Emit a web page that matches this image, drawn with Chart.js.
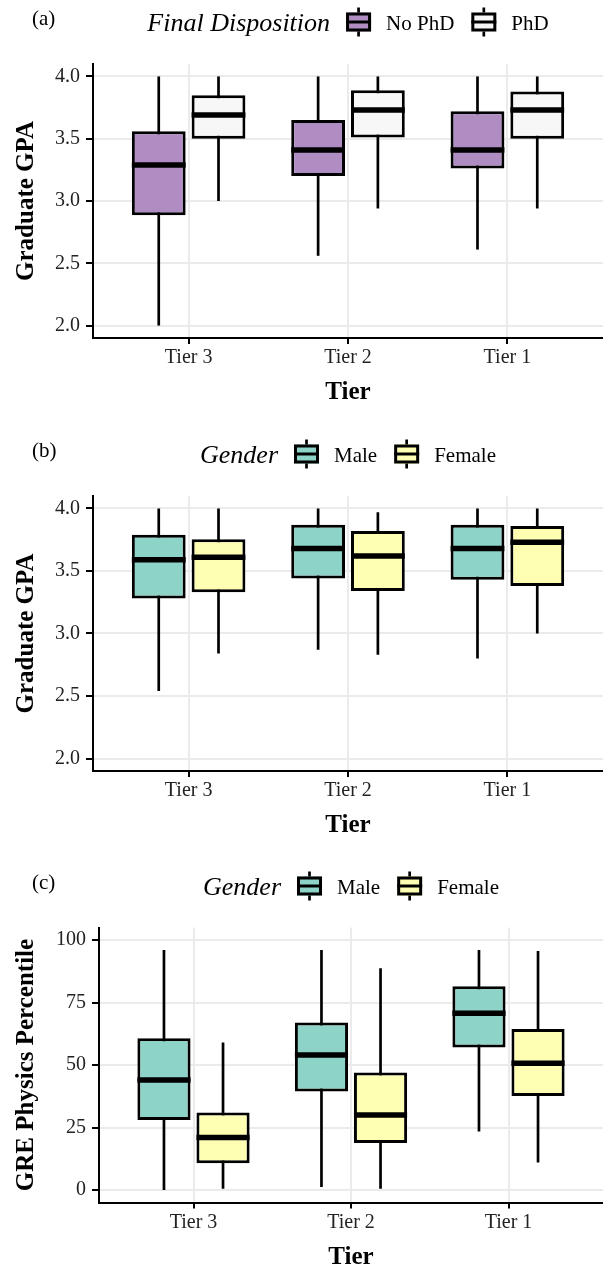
<!DOCTYPE html>
<html>
<head>
<meta charset="utf-8">
<script src="https://cdn.jsdelivr.net/npm/chart.js@4.4.1/dist/chart.umd.min.js"></script>
<style>
  html, body { margin: 0; padding: 0; background: #fff; overflow: hidden; }
  #wrap { position: relative; width: 603px; height: 1266px; overflow: hidden; }
  .panel { position: absolute; left: 0; width: 603px; height: 432px; }
</style>
</head>
<body>
<div id="wrap">
  <div class="panel" style="top:0"><canvas id="chartA" width="603" height="432"></canvas></div>
  <div class="panel" style="top:432px"><canvas id="chartB" width="603" height="432"></canvas></div>
  <div class="panel" style="top:864px"><canvas id="chartC" width="603" height="432"></canvas></div>
</div>
<script>
//? DATOS

const tiers = ["Tier 3", "Tier 2", "Tier 1"];
const tierPos = [1, 2, 3];
const gpaTicks = [2.0, 2.5, 3.0, 3.5, 4.0];
const greTicks = [0, 25, 50, 75, 100];

// (a) Graduate GPA por disposicion final
const noPhdLow = [2.0, 2.56, 2.61];
const noPhdQ1 = [2.885, 3.20, 3.26];
const noPhdMed = [3.29, 3.41, 3.41];
const noPhdQ3 = [3.56, 3.65, 3.72];
const noPhdHigh = [4.0, 4.0, 4.0];

const phdLow = [3.0, 2.94, 2.94];
const phdQ1 = [3.50, 3.51, 3.50];
const phdMed = [3.69, 3.73, 3.73];
const phdQ3 = [3.85, 3.89, 3.88];
const phdHigh = [4.0, 4.0, 4.0];

// (b) Graduate GPA por genero
const maleGpaLow = [2.54, 2.87, 2.80];
const maleGpaQ1 = [3.28, 3.44, 3.43];
const maleGpaMed = [3.59, 3.68, 3.68];
const maleGpaQ3 = [3.79, 3.87, 3.87];
const maleGpaHigh = [4.0, 4.0, 4.0];

const femaleGpaLow = [2.84, 2.83, 3.0];
const femaleGpaQ1 = [3.33, 3.34, 3.38];
const femaleGpaMed = [3.61, 3.62, 3.73];
const femaleGpaQ3 = [3.755, 3.82, 3.86];
const femaleGpaHigh = [4.0, 3.97, 4.0];

// (c) GRE Physics percentil por genero
const maleGreLow = [0, 1.2, 23.4];
const maleGreQ1 = [28, 39.4, 57];
const maleGreMed = [44, 54, 70.7];
const maleGreQ3 = [60.7, 67, 81.5];
const maleGreHigh = [96, 96, 96];

const femaleGreLow = [0.5, 0.5, 11];
const femaleGreQ1 = [10.7, 18.8, 37.6];
const femaleGreMed = [21, 30, 50.7];
const femaleGreQ3 = [31, 47, 64.4];
const femaleGreHigh = [59, 88.7, 95.6];

//? ESTILOS

const serif = "'Liberation Serif', 'DejaVu Serif', serif";
const purple = "#af8dc3";
const white = "#f7f7f7";
const teal = "#8dd3c7";
const yellow = "#ffffb3";

//? PLUGIN: BIGOTES Y MEDIANAS

const boxWhiskers = {
  id: "boxWhiskers",
  beforeDatasetsDraw(chart) {
    const { ctx } = chart;
    const y = chart.scales.y;
    ctx.save();
    ctx.strokeStyle = "#000";
    ctx.lineWidth = 2.7;
    chart.data.datasets.forEach((ds, d) => {
      chart.getDatasetMeta(d).data.forEach((bar, i) => {
        ctx.beginPath();
        ctx.moveTo(bar.x, y.getPixelForValue(ds.low[i]));
        ctx.lineTo(bar.x, y.getPixelForValue(ds.high[i]));
        ctx.stroke();
      });
    });
    ctx.restore();
  },
  afterDatasetsDraw(chart) {
    const { ctx } = chart;
    const y = chart.scales.y;
    ctx.save();
    ctx.strokeStyle = "#000";
    ctx.lineWidth = 5.5;
    chart.data.datasets.forEach((ds, d) => {
      chart.getDatasetMeta(d).data.forEach((bar, i) => {
        const py = y.getPixelForValue(ds.med[i]);
        ctx.beginPath();
        ctx.moveTo(bar.x - bar.width / 2, py);
        ctx.lineTo(bar.x + bar.width / 2, py);
        ctx.stroke();
      });
    });
    ctx.restore();
  },
};

//? PLUGIN: LEYENDA EN UNA FILA + ETIQUETA DEL PANEL

function drawKey(ctx, x, yc, color) {
  const w = 25, h = 19;
  ctx.lineWidth = 2.7;
  ctx.strokeStyle = "#000";
  ctx.beginPath();
  ctx.moveTo(x + w / 2, yc - h / 2 - 5);
  ctx.lineTo(x + w / 2, yc + h / 2 + 5);
  ctx.stroke();
  ctx.fillStyle = color;
  ctx.fillRect(x, yc - h / 2, w, h);
  ctx.lineWidth = 3;
  ctx.strokeRect(x + 1.5, yc - h / 2 + 1.5, w - 3, h - 3);
  ctx.beginPath();
  ctx.moveTo(x, yc);
  ctx.lineTo(x + w, yc);
  ctx.stroke();
}

const legendRow = {
  id: "legendRow",
  afterDraw(chart, args, opts) {
    const { ctx, chartArea } = chart;
    ctx.save();
    ctx.textBaseline = "alphabetic";
    ctx.textAlign = "left";
    ctx.fillStyle = "#000";

    ctx.font = `21px ${serif}`;
    ctx.fillText(opts.tag, 32, 24.5);

    ctx.font = `italic 26px ${serif}`;
    const titleW = ctx.measureText(opts.title).width;
    ctx.font = `21px ${serif}`;
    const labels = chart.data.datasets.map((ds) => ds.label);
    const labelW = labels.map((l) => ctx.measureText(l).width);
    const total = titleW + 16 + labels.reduce((s, l, i) => s + 25 + 15 + labelW[i], 0) + 17 * (labels.length - 1);
    let x = (chartArea.left + chartArea.right) / 2 - total / 2;

    ctx.font = `italic 26px ${serif}`;
    ctx.fillText(opts.title, x, 31);
    x += titleW + 16;
    chart.data.datasets.forEach((ds, i) => {
      drawKey(ctx, x, 22, ds.backgroundColor);
      x += 25 + 15;
      ctx.font = `21px ${serif}`;
      ctx.fillStyle = "#000";
      ctx.fillText(labels[i], x, 29.5);
      x += labelW[i] + 17;
    });
    ctx.restore();
  },
};

//? CONSTRUCTORES

function boxDataset(label, color, low, q1, med, q3, high) {
  return {
    label,
    data: tierPos.map((x, i) => ({ x, y: [q1[i], q3[i]] })),
    backgroundColor: color,
    borderColor: "#000",
    borderWidth: 3,
    borderSkipped: false,
    low,
    med,
    high,
  };
}

function makeScales(yTitle, yMin, yMax, yTicks, decimals, axisWidth) {
  return {
    x: {
      type: "linear",
      min: 0.4,
      max: 3.6,
      offset: false,
      afterBuildTicks: (s) => { s.ticks = tierPos.map((v) => ({ value: v })); },
      afterFit: (s) => { s.height = 70; },
      ticks: {
        callback: (v) => tiers[v - 1],
        font: { family: serif, size: 20 },
        color: "#222",
        padding: 2,
        maxRotation: 0,
        autoSkip: false,
      },
      grid: { offset: false, color: "#ebebeb", lineWidth: 2, tickColor: "#000", tickLength: 6, tickWidth: 2 },
      border: { color: "#000", width: 2 },
      title: {
        display: true,
        text: "Tier",
        color: "#000",
        font: { family: serif, size: 25, weight: "bold" },
        padding: 0,
      },
    },
    y: {
      min: yMin,
      max: yMax,
      afterBuildTicks: (s) => { s.ticks = yTicks.map((v) => ({ value: v })); },
      afterFit: (s) => { s.width = axisWidth; },
      ticks: {
        callback: (v) => v.toFixed(decimals),
        font: { family: serif, size: 20 },
        color: "#222",
        padding: 6,
      },
      grid: { color: "#ebebeb", lineWidth: 2, tickColor: "#000", tickLength: 7, tickWidth: 2 },
      border: { color: "#000", width: 2 },
      title: {
        display: true,
        text: yTitle,
        color: "#000",
        font: { family: serif, size: 25, weight: "bold" },
        padding: { top: 12, bottom: 0 },
      },
    },
  };
}

function renderPanel(id, datasets, scales, padding, tag, title) {
  return new Chart(id, {
    type: "bar",
    data: { datasets },
    options: {
      responsive: false,
      animation: false,
      devicePixelRatio: 1,
      categoryPercentage: 0.75,
      barPercentage: 0.9,
      layout: { padding },
      scales,
      plugins: {
        legend: { display: false },
        tooltip: { enabled: false },
        legendRow: { tag, title },
      },
    },
    plugins: [boxWhiskers, legendRow],
  });
}

//? PANELES

renderPanel(
  "chartA",
  [
    boxDataset("No PhD", purple, noPhdLow, noPhdQ1, noPhdMed, noPhdQ3, noPhdHigh),
    boxDataset("PhD", white, phdLow, phdQ1, phdMed, phdQ3, phdHigh),
  ],
  makeScales("Graduate GPA", 1.9, 4.1, gpaTicks, 1, 93),
  { top: 64, bottom: 24, left: 0, right: 0 },
  "(a)",
  "Final Disposition"
);

renderPanel(
  "chartB",
  [
    boxDataset("Male", teal, maleGpaLow, maleGpaQ1, maleGpaMed, maleGpaQ3, maleGpaHigh),
    boxDataset("Female", yellow, femaleGpaLow, femaleGpaQ1, femaleGpaMed, femaleGpaQ3, femaleGpaHigh),
  ],
  makeScales("Graduate GPA", 1.9, 4.1, gpaTicks, 1, 93),
  { top: 64, bottom: 23, left: 0, right: 0 },
  "(b)",
  "Gender"
);

renderPanel(
  "chartC",
  [
    boxDataset("Male", teal, maleGreLow, maleGreQ1, maleGreMed, maleGreQ3, maleGreHigh),
    boxDataset("Female", yellow, femaleGreLow, femaleGreQ1, femaleGreMed, femaleGreQ3, femaleGreHigh),
  ],
  makeScales("GRE Physics Percentile", -5, 105, greTicks, 0, 99),
  { top: 63.5, bottom: 23.5, left: 0, right: 0 },
  "(c)",
  "Gender"
);
</script>
</body>
</html>
